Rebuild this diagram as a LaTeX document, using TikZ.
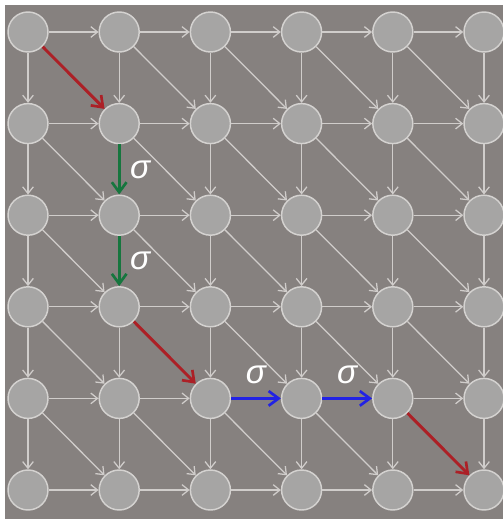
\documentclass[tikz,border=0pt]{standalone}
\usepackage{fontspec}
\setmainfont{Liberation Sans}
\usetikzlibrary{arrows.meta,positioning}

\definecolor{bgcol}{RGB}{134,129,127}
\definecolor{cellfill}{RGB}{166,165,164}
\definecolor{celledge}{RGB}{212,210,208}
\definecolor{linkcol}{RGB}{208,205,203}
\definecolor{redpath}{RGB}{172,32,38}
\definecolor{greenpath}{RGB}{22,118,62}
\definecolor{bluepath}{RGB}{34,34,228}

\begin{document}
\begin{tikzpicture}[
  x=0.75pt,y=-0.75pt,
  cell/.style={circle, draw=celledge, fill=cellfill, line width=1.1pt, minimum size=30pt, inner sep=0pt},
  garr/.style={-{Straight Barb[length=5pt,width=8pt]}, draw=linkcol, line width=0.95pt},
  parr/.style={-{Straight Barb[length=7.5pt,width=11pt,line width=2pt]}, line width=2.2pt},
  sig/.style={text=white, font=\fontsize{25}{25}\selectfont\itshape, inner sep=0pt}
]
\useasboundingbox (0,0) rectangle (503,521);
\fill[white] (0,0) rectangle (503,521);
\fill[bgcol] (5,5) rectangle (503,519);

% grid of states
\foreach \i in {0,...,5}
  \foreach \j in {0,...,5}
    \node[cell] (n\i\j) at ({28+91.2*\i},{32+91.6*\j}) {};

% gray links (the coloured path is drawn separately)
\foreach \i in {0,...,4}
  \foreach \j in {0,...,5}{
    \pgfmathtruncatemacro\k{\i+1}
    \pgfmathtruncatemacro\hide{(\j==4)&&(\i>1)&&(\i<4)}
    \ifnum\hide=0 \draw[garr] (n\i\j) -- (n\k\j);\fi
  }
\foreach \i in {0,...,5}
  \foreach \j in {0,...,4}{
    \pgfmathtruncatemacro\k{\j+1}
    \pgfmathtruncatemacro\hide{(\i==1)&&(\j>0)&&(\j<3)}
    \ifnum\hide=0 \draw[garr] (n\i\j) -- (n\i\k);\fi
  }
\foreach \i in {0,...,4}
  \foreach \j in {0,...,4}{
    \pgfmathtruncatemacro\k{\i+1}
    \pgfmathtruncatemacro\m{\j+1}
    \pgfmathtruncatemacro\hide{((\i==\j)&&((\i==0)||(\i==4)))||((\i==1)&&(\j==3))}
    \ifnum\hide=0 \draw[garr] (n\i\j) -- (n\k\m);\fi
  }

% path
\draw[parr, redpath] (n00) -- (n11);
\draw[parr, greenpath] (n11) -- node[sig, right=7pt] (s1) {σ} (n12);
\draw[parr, greenpath] (n12) -- node[sig, right=7pt] (s2) {σ} (n13);
\draw[parr, redpath] (n13) -- (n24);
\draw[parr, bluepath] (n24) -- node[sig, above=10pt] (s3) {σ} (n34);
\draw[parr, bluepath] (n34) -- node[sig, above=10pt] (s4) {σ} (n44);
\draw[parr, redpath] (n44) -- (n55);
\end{tikzpicture}
\end{document}
